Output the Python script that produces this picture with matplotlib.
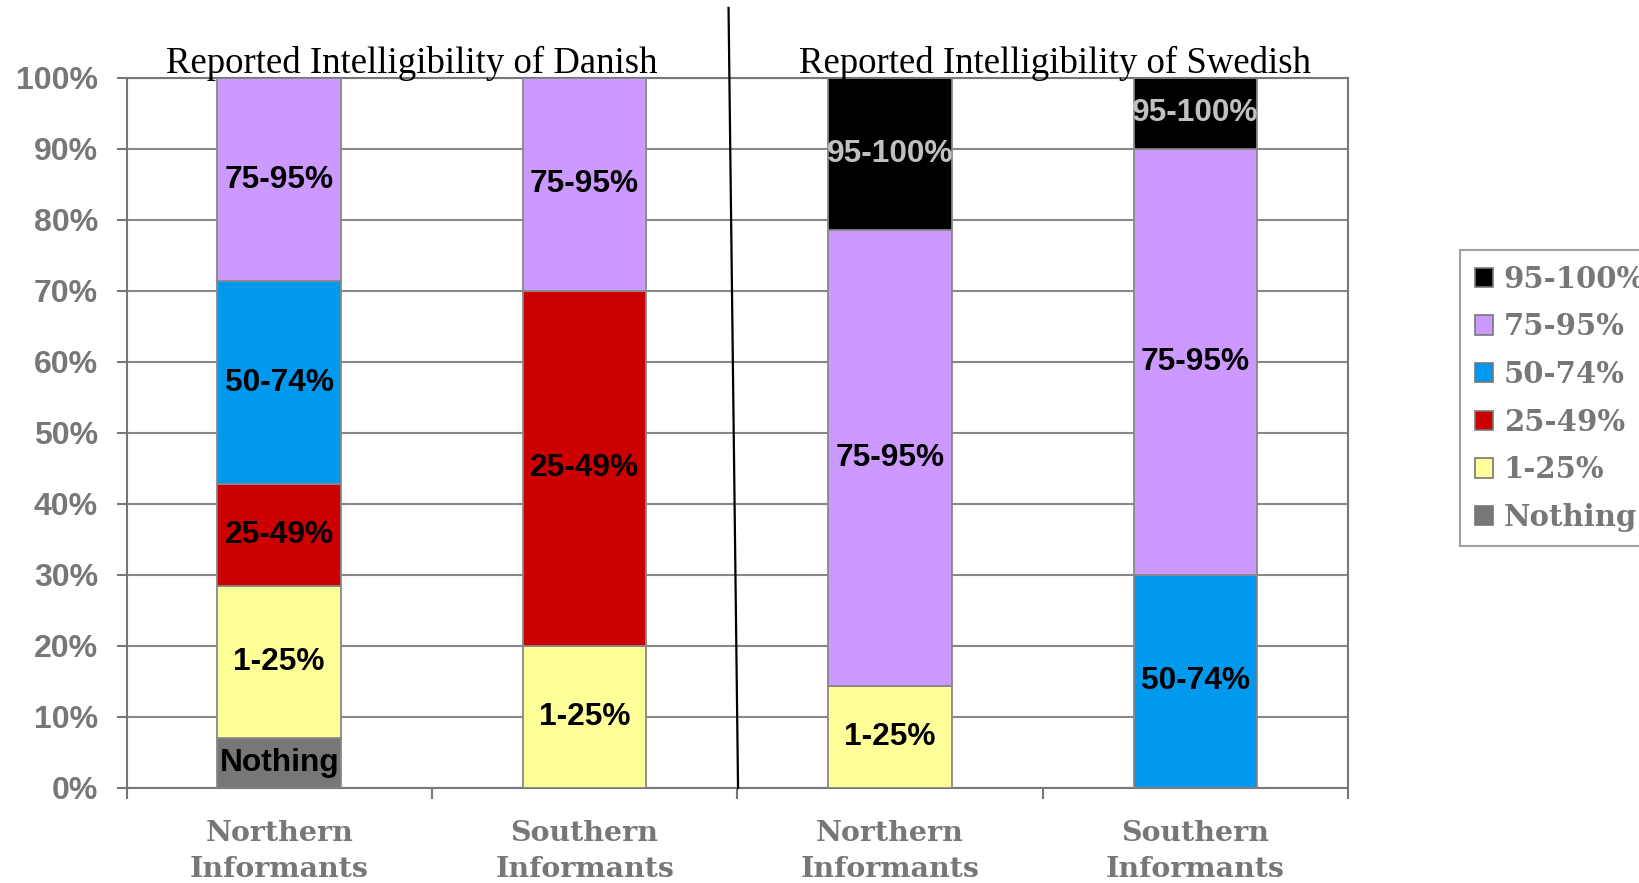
import matplotlib
matplotlib.use("Agg")
import matplotlib.pyplot as plt
from matplotlib.lines import Line2D
from matplotlib.patches import Patch
import numpy as np

categories = ["Northern\nInformants", "Southern\nInformants", "Northern\nInformants", "Southern\nInformants"]
series_names = ["Nothing", "1-25%", "25-49%", "50-74%", "75-95%", "95-100%"]
nothing = [7.1, 0, 0, 0]
p1_25 = [21.4, 20.0, 14.3, 0]
p25_49 = [14.3, 50.0, 0, 0]
p50_74 = [28.6, 0, 0, 30.0]
p75_95 = [28.6, 30.0, 64.3, 60.0]
p95_100 = [0, 0, 21.4, 10.0]
panel_titles = ["Reported Intelligibility of Danish", "Reported Intelligibility of Swedish"]
yticks = [0, 10, 20, 30, 40, 50, 60, 70, 80, 90, 100]

series = [nothing, p1_25, p25_49, p50_74, p75_95, p95_100]
colors = ["#777777", "#FFFF99", "#CC0000", "#0099EE", "#CC99FF", "#000000"]
label_colors = ["black", "black", "black", "black", "black", "#C0C0C0"]

fig = plt.figure(figsize=(16.39, 8.83), dpi=100)
ax = fig.add_axes([0.0772, 0.1076, 0.7453, 0.8041])

x = np.arange(len(categories))
bottom = np.zeros(len(categories))
for vals, col, lc, name in zip(series, colors, label_colors, series_names):
    vals = np.array(vals, dtype=float)
    ax.bar(x, vals, bottom=bottom, width=0.405, color=col, edgecolor="#888888",
           linewidth=1.3, zorder=3)
    for xi, v, b in zip(x, vals, bottom):
        if v > 0:
            ax.text(xi, b + v / 2, name, ha="center", va="center", color=lc,
                    fontsize=22.8, fontweight="bold", family="Liberation Sans", zorder=4)
    bottom += vals

ax.set_xlim(-0.5, len(categories) - 0.5)
ax.set_ylim(0, 100)
ax.set_yticks(yticks)
ax.set_yticklabels([f"{t}%" for t in yticks], fontsize=23, fontweight="bold",
                   family="Liberation Sans", color="#777777")
ax.yaxis.grid(True, color="#888888", linewidth=1.5, zorder=0)
ax.tick_params(axis="y", length=7.5, width=1.5, color="#777777", pad=13)

ax.set_xticks(x)
ax.set_xticklabels(categories, fontsize=20.5, fontweight="bold", family="DejaVu Serif",
                   color="#777777", linespacing=1.45)
ax.set_xticks(np.arange(len(categories) + 1) - 0.5, minor=True)
ax.tick_params(axis="x", which="major", length=0, pad=23)
ax.tick_params(axis="x", which="minor", length=8, width=1.5, color="#777777")

for s in ax.spines.values():
    s.set_color("#777777")
    s.set_linewidth(1.5)

# panel titles
ax.text(0.435, 100.7, panel_titles[0], ha="center", va="baseline", fontsize=26.5,
        family="Liberation Serif", color="black")
ax.text(2.54, 100.7, panel_titles[1], ha="center", va="baseline", fontsize=26.5,
        family="Liberation Serif", color="black")

# slanted separator line
fig.add_artist(Line2D([0.4445, 0.4503], [0.991, 0.1076], color="black", linewidth=1.6,
                      transform=fig.transFigure))

handles = [Patch(facecolor=c, edgecolor="#777777", linewidth=1.2) for c in colors[::-1]]
leg = fig.legend(handles, series_names[::-1], loc="upper left",
                 bbox_to_anchor=(0.8908, 0.7169), frameon=True, fancybox=False,
                 prop={"family": "DejaVu Serif", "weight": "bold", "size": 21},
                 labelcolor="#777777", handlelength=0.64, handleheight=0.64,
                 handletextpad=0.36, labelspacing=0.64, borderpad=0.5, borderaxespad=0)
leg.get_frame().set_edgecolor("#888888")
leg.get_frame().set_linewidth(1.5)

fig.savefig("out.png", dpi=100, facecolor="white")
